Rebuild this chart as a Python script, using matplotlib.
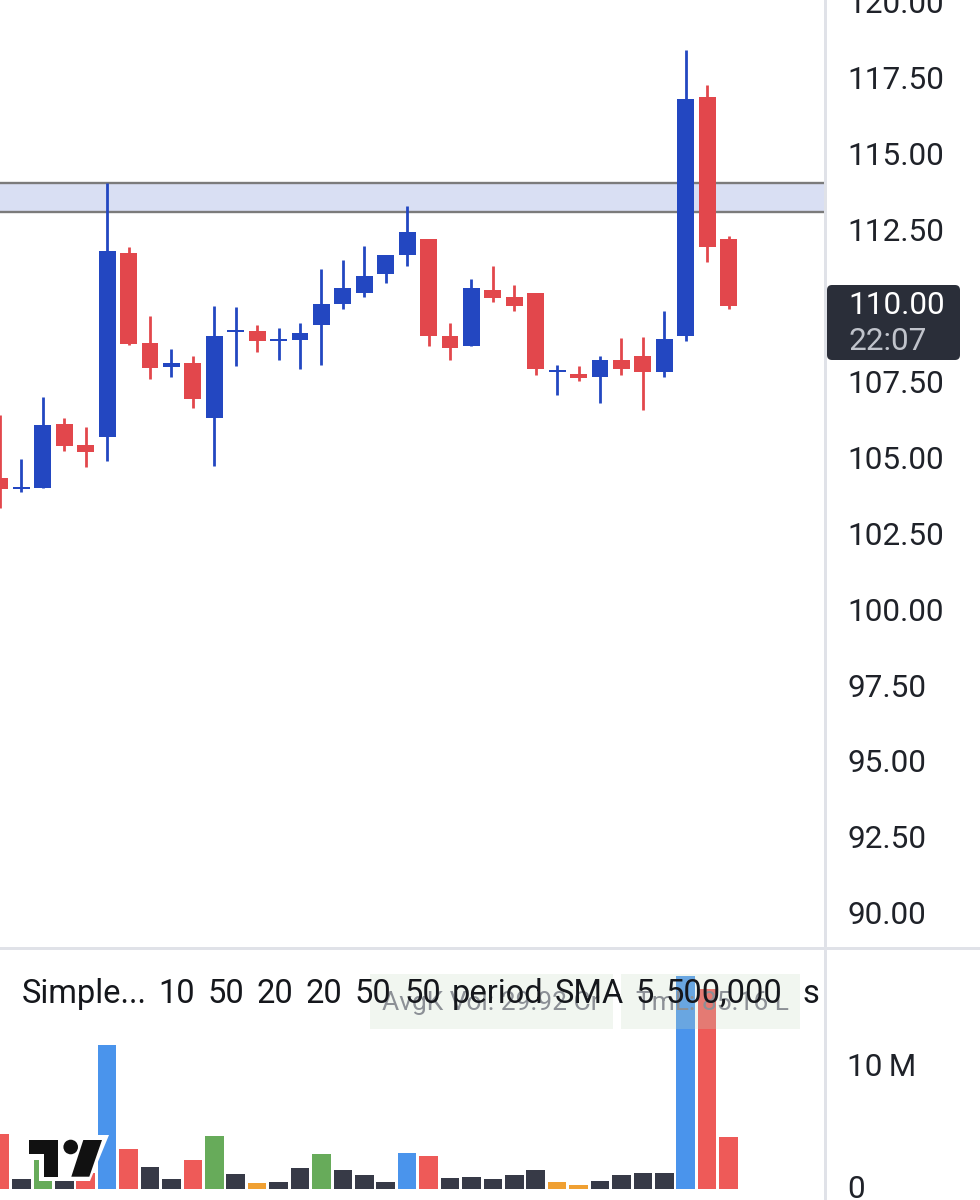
import matplotlib
matplotlib.use('Agg')
from matplotlib import pyplot as plt
from matplotlib.patches import Circle, FancyBboxPatch, Polygon, Rectangle
from matplotlib.transforms import ScaledTranslation

plt.rcParams['font.family'] = ['Roboto', 'DejaVu Sans']

# candles, left to right
opens = [104.33, 103.99, 104.02, 106.11, 105.42, 105.70, 111.75, 108.79, 107.99, 108.12, 106.32, 109.14,
         109.19, 108.85, 108.87, 109.37, 110.06, 110.43, 111.05, 111.69, 112.20, 109.02, 108.69, 110.53,
         110.29, 110.42, 107.84, 107.77, 107.65, 108.22, 108.36, 107.82, 109.01, 116.87, 112.20]
highs = [106.41, 104.96, 107.02, 106.31, 106.03, 114.04, 111.95, 109.67, 108.60, 108.36, 110.01, 109.96,
         109.38, 109.27, 109.43, 111.22, 111.51, 111.96, 111.69, 113.30, 112.20, 109.43, 110.89, 111.33,
         110.70, 110.42, 108.06, 108.04, 108.36, 108.95, 108.97, 109.83, 118.42, 117.27, 112.31]
lows = [103.36, 103.89, 104.02, 105.24, 104.71, 104.90, 108.71, 107.60, 107.65, 106.64, 104.74, 108.03,
        108.48, 108.22, 107.94, 108.07, 109.91, 110.30, 110.77, 111.33, 108.69, 108.23, 108.69, 110.13,
        109.85, 107.73, 107.08, 107.54, 106.80, 107.73, 106.58, 107.65, 108.85, 111.45, 109.89]
closes = [103.97, 104.06, 106.09, 105.41, 105.21, 111.81, 108.75, 107.97, 108.13, 106.93, 109.02, 109.21,
          108.85, 108.91, 109.11, 110.07, 110.58, 111.00, 111.69, 112.44, 109.01, 108.61, 110.58, 110.26,
          110.00, 107.92, 107.90, 107.64, 108.22, 107.94, 107.84, 108.91, 116.81, 111.95, 110.00]

# volume in millions, k = dark, g = green, o = orange, b = blue, r = red
volumes = [4.43, 0.76, 2.37, 0.60, 1.28, 11.75, 3.25, 1.72, 0.76, 2.32, 4.26, 1.17, 0.43, 0.52, 1.64, 2.79,
           1.50, 1.09, 0.57, 2.89, 2.65, 0.84, 0.98, 0.76, 1.09, 1.50, 0.52, 0.27, 0.60, 1.09, 1.29, 1.29,
           17.40, 16.34, 4.24]
volume_kinds = 'rkgkrbrkkrgkokkgkkkbrkkkkkookkkkbrr'

zone_low, zone_high = 113.09, 114.05
price_ticks = [90, 92.5, 95, 97.5, 100, 102.5, 105, 107.5, 112.5, 115, 117.5, 120]
volume_ticks = [0, 10]
volume_labels = ['0', '10\u2009M']
last_price = '110.00'
countdown = '22:07'
legend_words = ['Simple...', '10', '50', '20', '20', '50', '50', 'period', 'SMA', '5', '500,000', 's']
legend_word_x = [22, 158, 207, 256, 305, 354, 404, 452, 555, 635, 665, 802]
avg_text = 'AvgK Vol: 29.92 Cr'
tml_text = 'TmL: 85.16 L'

BLUE, RED = '#2347c1', '#e2474c'
VOL_COLORS = {'k': '#373a47', 'g': '#67ab5a', 'o': '#f0a032', 'b': '#4a94ec', 'r': '#ee5a58'}
W, H = 980, 1200
FONT = 22.7


def px(x, y):
    # reference pixels (origin top left) to figure fraction
    return x / W, 1 - y / H


def add_box(fig, x0, y0, x1, y1, **kwargs):
    fig.add_artist(Rectangle(px(x0, y1), (x1 - x0) / W, (y1 - y0) / H, transform=fig.transFigure, **kwargs))


fig = plt.figure(figsize=(W / 100, H / 100), dpi=100, facecolor='white')
ax = fig.add_axes([0, 1 - 948 / H, 825 / W, 948 / H])
vol_ax = fig.add_axes([0, 0, 825 / W, 250 / H])

for a in (ax, vol_ax):
    a.set_xlim(0, 38.5)
    a.set_xticks([])
    a.yaxis.tick_right()
    a.tick_params(axis='y', length=0, pad=16, labelsize=FONT, labelcolor='#1f2229')
    for spine in a.spines.values():
        spine.set_visible(False)

ax.set_ylim(88.88, 120.07)
vol_ax.set_ylim(-0.94, 19.5)

ax.axhspan(zone_low, zone_high, color='#d9dff3', lw=0, zorder=1)
ax.axhline(zone_low, color='#7b7b7b', lw=1.7, zorder=2)
ax.axhline(zone_high, color='#7b7b7b', lw=1.7, zorder=2)

xs = list(range(len(opens)))
colors = [BLUE if c > o else RED for o, c in zip(opens, closes)]
ax.vlines(xs, lows, highs, colors=colors, lw=2.0, zorder=3)
ax.bar(xs, [abs(c - o) for o, c in zip(opens, closes)], bottom=[min(o, c) for o, c in zip(opens, closes)],
       width=0.79, color=colors, lw=0, zorder=4)

ax.set_yticks(price_ticks, [f'{t:.2f}' for t in price_ticks])
vol_ax.set_yticks(volume_ticks, volume_labels)

# tick labels sit a little high in the reference
for a, lift in ((ax, 1), (vol_ax, 2)):
    for label in a.get_yticklabels():
        label.set_transform(label.get_transform() + ScaledTranslation(0, lift / 100, fig.dpi_scale_trans))

vol_ax.bar(xs, volumes, width=0.87, color=[VOL_COLORS[k] for k in volume_kinds], lw=0, zorder=2)

# pills sit over the bars, a strong tint at low alpha so the bars show through
add_box(fig, 370, 974, 613, 1029, color='#c8dcc4', alpha=0.25, lw=0, zorder=5)
add_box(fig, 621, 974, 800, 1029, color='#c8dcc4', alpha=0.25, lw=0, zorder=5)
fig.text(*px(491, 1003), avg_text, color='#8c9096', fontsize=19, ha='center', va='center', zorder=6)
fig.text(*px(712, 1003), tml_text, color='#8c9096', fontsize=19, ha='center', va='center', zorder=6)
for word, x in zip(legend_words, legend_word_x):
    fig.text(*px(x, 1003), word, color='#15171c', fontsize=23.5, ha='left', va='baseline', zorder=7)

# watermark
logo = [
    Polygon([px(25, 1135), px(109, 1135), px(90, 1181), px(39, 1181), px(39, 1158), px(25, 1158)], color='white', lw=0),
    Polygon([px(29.3, 1140), px(58.3, 1140), px(58.3, 1176.7), px(44, 1176.7), px(44, 1154), px(29.3, 1154)], color='#111111', lw=0),
    Polygon([px(83.3, 1140), px(102, 1140), px(89.3, 1176.7), px(71.3, 1176.7)], color='#111111', lw=0),
]
for patch in logo:
    patch.set_transform(fig.transFigure)
    patch.set_zorder(8)
    fig.add_artist(patch)
dot = Circle((70.7, H - 1147), 7.3, color='#111111', lw=0, zorder=9, transform=None)
fig.add_artist(dot)

# scale separators
add_box(fig, 824, 0, 827, H, color='#e0e2e8', lw=0, zorder=5)
add_box(fig, 0, 947, W, 950, color='#e0e2e8', lw=0, zorder=5)

# last price badge
badge = FancyBboxPatch((827, H - 360), 133, 75, boxstyle='round,pad=0,rounding_size=5', fc='#2a2e39', ec='none',
                       transform=None, zorder=9)
fig.add_artist(badge)
fig.text(*px(848, 306), last_price, color='white', fontsize=FONT, ha='left', va='center', zorder=10)
fig.text(*px(848, 341), countdown, color='#c0c3cb', fontsize=FONT, ha='left', va='center', zorder=10)

fig.savefig('out.png', dpi=100)
